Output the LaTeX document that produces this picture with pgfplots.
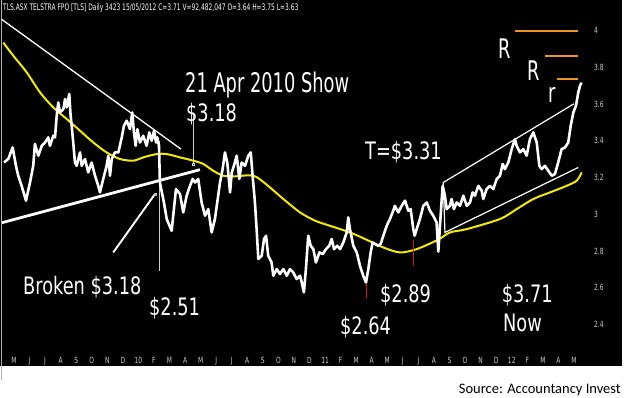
\documentclass[border=0pt]{standalone}
\usepackage{pgfplots}
\pgfplotsset{compat=1.18}
\usepackage{fontspec}
\setmainfont{DejaVu Sans}
\newfontfamily\bigann[FakeStretch=0.66]{DejaVu Sans}
\newfontfamily\ann[FakeStretch=0.74]{DejaVu Sans}
\newfontfamily\tickf[FakeStretch=0.7]{DejaVu Sans}
\newfontfamily\srcf{Carlito}
\definecolor{magold}{RGB}{240,235,0}
\definecolor{orng}{RGB}{235,150,30}
\definecolor{tickgray}{RGB}{205,205,205}
\definecolor{redm}{RGB}{215,25,25}
\begin{document}
\begin{tikzpicture}[x=1pt,y=1pt]
\useasboundingbox (0,0) rectangle (625,397);
\fill[white] (0,0) rectangle (625,397);
\begin{axis}[
  at={(0,17)}, anchor=south west,
  scale only axis, width=622pt, height=380pt,
  xmin=-0.951, xmax=39.31, ymin=2.174, ymax=4.245,
  axis background/.style={fill=black},
  axis line style={draw=none},
  tick style={draw=none},
  xtick={-0.05,0.957,...,36.3},
  xticklabels={M,J,J,A,S,O,N,D,10,F,M,A,M,J,J,A,S,O,N,D,11,F,M,A,M,J,J,A,S,O,N,D,12,F,M,A,M},
  xticklabel style={anchor=base, yshift=2.3pt, inner sep=0pt, text=tickgray, font={\tickf\fontsize{8.5}{9}\selectfont}},
  ytick={2.4,2.6,2.8,3,3.2,3.4,3.6,3.8,4},
  yticklabels={2.4,2.6,2.8,3,3.2,3.4,3.6,3.8,4},
  yticklabel pos=right,
  yticklabel style={anchor=west, xshift=-28pt, inner sep=0pt, text=tickgray, font={\tickf\fontsize{8.5}{9}\selectfont}},
]
% support / resistance annotation lines
\addplot[white, line width=1.3pt] coordinates {(-0.89,4.065) (10.76,3.355)};
\addplot[white, line width=2.8pt] coordinates {(-0.82,2.954) (11.99,3.243)};
\addplot[tickgray, line width=0.8pt] coordinates {(11.56,3.546) (11.56,3.274)};
\addplot[tickgray, only marks, mark=square, mark size=1.2pt] coordinates {(11.56,3.274)};
\addplot[tickgray, line width=0.8pt] coordinates {(9.36,3.400) (9.36,2.692)};
\addplot[white, line width=1.9pt] coordinates {(6.38,2.792) (9.08,3.110)};
\addplot[tickgray, only marks, mark=square, mark size=1.2pt] coordinates {(9.08,3.110)};
% channel
\addplot[white, line width=1.2pt] coordinates {(36.20,3.602) (27.74,3.173) (27.85,2.901) (36.48,3.255)};
% orange resistance lines
\addplot[orng, line width=1.6pt] coordinates {(32.38,4.0) (36.48,4.0)};
\addplot[orng, line width=1.6pt] coordinates {(34.32,3.864) (36.48,3.864)};
\addplot[orng, line width=1.6pt] coordinates {(35.08,3.737) (36.48,3.737)};
% moving average
\addplot[magold, line width=2pt, smooth] coordinates {
(-0.74,3.936) (-0.09,3.864) (0.78,3.773) (1.64,3.664) (2.50,3.582) (3.37,3.519) (4.23,3.455) (5.09,3.391) (5.95,3.337) (6.82,3.301) (7.68,3.292) (8.32,3.310) (9.19,3.328) (9.84,3.328) (10.70,3.310) (11.56,3.292) (12.21,3.274) (12.85,3.237) (13.50,3.210) (14.15,3.206) (15.44,3.210) (16.31,3.161) (17.39,3.083) (18.47,3.010) (19.44,2.965) (20.41,2.937) (21.70,2.901) (22.78,2.861) (23.86,2.819) (24.94,2.792) (26.02,2.810) (27.40,2.861) (28.18,2.901) (29.26,2.919) (31.41,2.974) (32.49,3.028) (33.57,3.083) (34.65,3.119) (35.73,3.155) (36.38,3.183) (36.70,3.228)};
% price
\addplot[white, line width=2.6pt, line join=round] coordinates {
(-0.69,3.282) (-0.41,3.302) (-0.13,3.364) (0.08,3.264) (0.23,3.210) (0.45,3.155) (0.73,3.074) (0.99,3.173) (1.20,3.264) (1.31,3.383) (1.53,3.319) (1.75,3.373) (1.96,3.391) (2.17,3.419) (2.28,3.373) (2.50,3.428) (2.61,3.419) (2.72,3.537) (2.82,3.609) (2.93,3.555) (3.15,3.573) (3.26,3.628) (3.37,3.582) (3.53,3.655) (3.62,3.537) (3.69,3.482) (3.79,3.391) (3.90,3.282) (4.01,3.264) (4.23,3.337) (4.34,3.264) (4.55,3.301) (4.76,3.228) (4.98,3.282) (5.20,3.210) (5.41,3.155) (5.52,3.119) (5.73,3.192) (5.95,3.264) (6.06,3.319) (6.17,3.210) (6.28,3.301) (6.49,3.337) (6.71,3.337) (6.93,3.419) (7.07,3.482) (7.25,3.510) (7.46,3.464) (7.61,3.555) (7.72,3.446) (7.83,3.373) (7.94,3.464) (8.11,3.391) (8.32,3.428) (8.54,3.373) (8.71,3.446) (8.87,3.401) (9.02,3.455) (9.15,3.391) (9.23,3.419) (9.34,3.373) (9.40,3.173) (9.66,3.064) (9.84,2.974) (10.16,2.910) (10.44,3.137) (10.70,3.110) (10.91,3.010) (11.13,3.101) (11.35,3.155) (11.52,3.192) (11.67,3.173) (11.88,3.192) (12.10,3.064) (12.32,2.992) (12.53,3.028) (12.75,2.901) (12.96,2.974) (13.11,3.064) (13.29,3.173) (13.46,3.246) (13.61,3.337) (13.76,3.282) (13.94,3.119) (14.05,3.228) (14.19,3.264) (14.37,3.319) (14.54,3.192) (14.69,3.282) (14.91,3.264) (15.12,3.319) (15.28,3.337) (15.40,3.210) (15.55,3.064) (15.66,2.919) (15.77,2.756) (15.99,2.774) (16.14,2.865) (16.27,2.883) (16.41,2.774) (16.63,2.737) (16.74,2.665) (16.96,2.701) (17.17,2.674) (17.39,2.701) (17.61,2.665) (17.82,2.701) (18.03,2.683) (18.25,2.647) (18.47,2.665) (18.58,2.628) (18.72,2.574) (18.85,2.701) (19.00,2.883) (19.16,2.828) (19.33,2.810) (19.50,2.737) (19.72,2.792) (19.94,2.783) (20.15,2.810) (20.36,2.828) (20.52,2.865) (20.67,2.810) (20.88,2.828) (21.06,2.810) (21.27,2.846) (21.49,2.901) (21.59,2.983) (21.70,2.919) (21.92,2.828) (22.14,2.792) (22.35,2.719) (22.56,2.665) (22.74,2.628) (22.89,2.701) (23.04,2.792) (23.17,2.846) (23.32,2.838) (23.53,2.828) (23.69,2.838) (23.86,2.883) (24.08,2.937) (24.29,2.974) (24.50,3.019) (24.61,3.046) (24.83,3.010) (25.05,3.046) (25.26,3.074) (25.48,3.019) (25.63,3.028) (25.80,2.919) (25.89,2.883) (26.02,2.919) (26.23,2.974) (26.45,3.046) (26.67,3.064) (26.88,3.019) (27.09,2.992) (27.31,2.955) (27.42,2.796) (27.57,2.992) (27.70,3.155) (27.85,3.101) (27.96,3.028) (28.17,3.046) (28.28,3.083) (28.43,3.028) (28.61,3.064) (28.82,3.046) (29.04,3.101) (29.26,3.046) (29.47,3.064) (29.64,3.119) (29.79,3.101) (30.01,3.155) (30.23,3.128) (30.33,3.083) (30.55,3.137) (30.76,3.155) (30.98,3.137) (31.20,3.192) (31.41,3.210) (31.59,3.274) (31.73,3.246) (31.95,3.282) (32.17,3.355) (32.38,3.410) (32.49,3.373) (32.71,3.337) (32.92,3.355) (33.14,3.319) (33.35,3.410) (33.57,3.446) (33.79,3.391) (33.96,3.264) (34.11,3.246) (34.32,3.264) (34.54,3.237) (34.76,3.210) (34.97,3.219) (35.18,3.282) (35.40,3.355) (35.62,3.364) (35.83,3.391) (35.99,3.482) (36.16,3.555) (36.33,3.591) (36.48,3.664) (36.59,3.700) (36.69,3.717)};
% red markers
\addplot[redm, line width=1.5pt] coordinates {(22.76,2.620) (22.76,2.546)};
\addplot[redm, line width=1.5pt] coordinates {(25.80,2.860) (25.80,2.719)};
\end{axis}
\draw[gray!60, line width=0.8pt] (1.2,17) -- (1.2,397);
% header
\node[anchor=base west, inner sep=0pt, text=white, font={\bigann\fontsize{9}{10}\selectfont}] at (3,386) {TLS.ASX TELSTRA FPO [TLS] Daily 3423 15/05/2012 C=3.71 V=92,482,047 O=3.64 H=3.75 L=3.63};
% annotations
\tikzset{bigt/.style={anchor=base west, inner sep=0pt, text=white, font={\bigann\fontsize{27}{30}\selectfont}},
         smt/.style={anchor=base west, inner sep=0pt, text=white, font={\ann\fontsize{24}{27}\selectfont}}}
\node[bigt] at (185,304.3) {21 Apr 2010 Show};
\node[smt] at (186,275.3) {\$3.18};
\node[smt] at (23,102) {Broken \$3.18};
\node[smt] at (149,81.6) {\$2.51};
\node[smt] at (340,62) {\$2.64};
\node[smt] at (380,94.3) {\$2.89};
\node[smt] at (365,237.7) {T=\$3.31};
\node[smt] at (501.7,94.3) {\$3.71};
\node[smt] at (503,65.3) {Now};
\node[bigt] at (498,338.7) {R};
\node[bigt] at (527,316) {R};
\node[bigt] at (548,294.3) {r};
% source
\node[anchor=base east, inner sep=0pt, text=black, font={\srcf\fontsize{14.5}{16}\selectfont}] at (621,3) {Source: Accountancy Invest};
\end{tikzpicture}
\end{document}
